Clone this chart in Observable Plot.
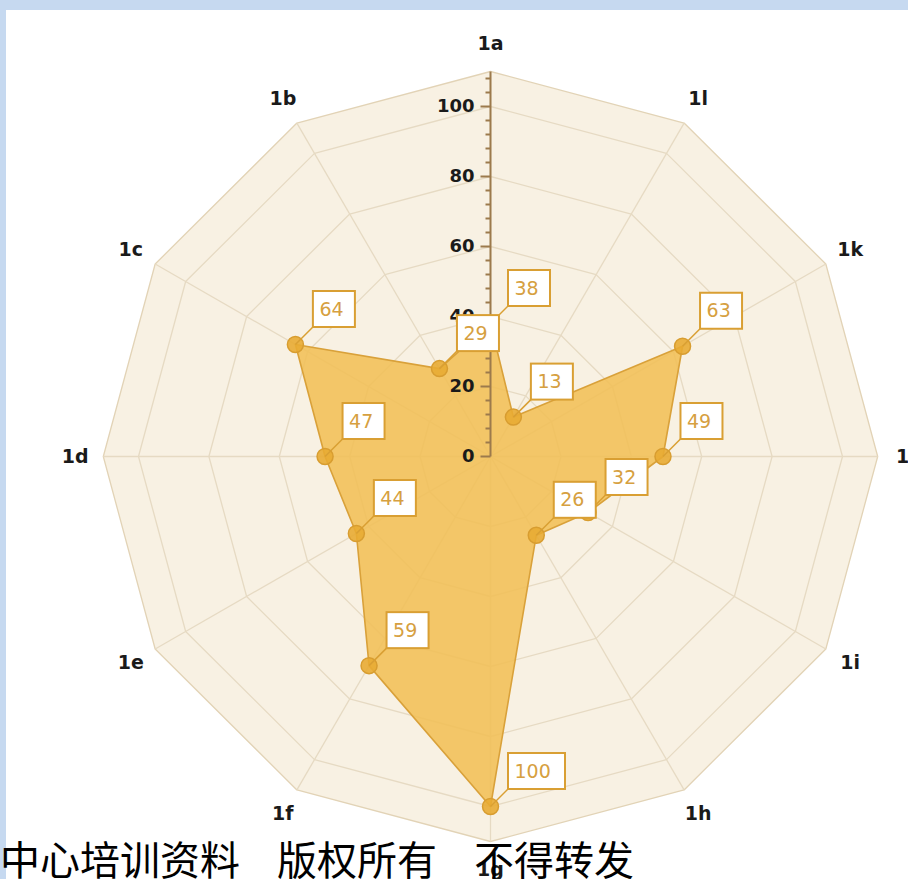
<!DOCTYPE html>
<html><head><meta charset="utf-8">
<script src="https://cdn.jsdelivr.net/npm/d3@7"></script>
<script src="https://cdn.jsdelivr.net/npm/@observablehq/plot@0.6"></script>
<style>
html,body{margin:0;padding:0;background:#c6d9f0;width:908px;height:879px;overflow:hidden;position:relative}
#panel{position:absolute;left:6px;top:10px;width:902px;height:869px;background:#fff}
#chart{position:absolute;left:0;top:0}
#note{position:absolute;left:0;top:838px;font-family:"Noto Sans CJK SC";font-size:40px;line-height:1;color:#000;word-spacing:28px;white-space:nowrap}
</style></head><body>
<div id="panel"></div><div id="chart"></div><div id="note">中心培训资料 版权所有 不得转发</div>
<script>
// ---- data ----
const categories = ["1a","1l","1k","1j","1i","1h","1g","1f","1e","1d","1c","1b"];
// positions as drawn in the picture (the 1f point sits near 69 although its label reads 59)
const values = [38,13,63,49,32,26,100,69,44,47,64,29];
const valueLabels = ["38","13","63","49","32","26","100","59","44","47","64","29"];
const ringLevels = [20,40,60,80,100];
const outerLevel = 110;
const labelLevel = 118;
const tickLabels = [0,20,40,60,80,100];
const minorTicks = [4,8,12,16,24,28,32,36,44,48,52,56,64,68,72,76,84,88,92,96,104,108];

// ---- polar helpers ----
const n = categories.length;
const ang = i => i * 2 * Math.PI / n;
const px = (i, r) => r * Math.sin(ang(i));
const py = (i, r) => r * Math.cos(ang(i));

const outer = categories.map((c, i) => ({x: px(i, outerLevel), y: py(i, outerLevel)}));
const rings = ringLevels.flatMap(l => categories.map((c, i) => ({level: l, x: px(i, l), y: py(i, l)})));
const spokes = categories.map((c, i) => ({x2: px(i, outerLevel), y2: py(i, outerLevel)}));
const pts = categories.map((c, i) => ({cat: c, v: values[i], label: valueLabels[i], x: px(i, values[i]), y: py(i, values[i])}));
const catLabels = categories.map((c, i) => ({cat: c, x: px(i, labelLevel), y: py(i, labelLevel)}));

const hTick = len => ({draw(ctx){ ctx.moveTo(-len, 0); ctx.lineTo(0, 0); }});
const leader = {draw(ctx){ ctx.moveTo(0, 0); ctx.lineTo(18, -18); }};

const axisColor = "#9c7a4c";
const orange = "#d99f33";
const font = "DejaVu Sans";

const boxOpts = (w) => ({
  x1: "x", x2: "x", y1: "y", y2: "y",
  insetLeft: 18, insetRight: -(18 + w), insetTop: -53, insetBottom: 17,
  fill: "#fff", stroke: orange, strokeWidth: 2
});

const chart = Plot.plot({
  width: 908, height: 879, margin: 0,
  x: {domain: [-100, 100], range: [490 - 352, 490 + 352], axis: null},
  y: {domain: [-100, 100], range: [456 + 350, 456 - 350], axis: null},
  style: {background: "transparent", overflow: "visible"},
  marks: [
    Plot.line(outer, {x: "x", y: "y", curve: "linear-closed", fill: "#f8f1e3", stroke: "#e2d3b6", strokeWidth: 1.3}),
    Plot.line(rings, {x: "x", y: "y", z: "level", curve: "linear-closed", stroke: "#e6dac3", strokeWidth: 1.3}),
    Plot.link(spokes, {x1: () => 0, y1: () => 0, x2: "x2", y2: "y2", stroke: "#e6dac3", strokeWidth: 1.3}),
    Plot.line(pts, {x: "x", y: "y", curve: "linear-closed", fill: "#f1bf57", fillOpacity: 0.88, stroke: "#d9a13a", strokeWidth: 1.6}),
    Plot.link([outerLevel], {x1: () => 0, y1: () => 0, x2: () => 0, y2: d => d, stroke: axisColor, strokeWidth: 2}),
    Plot.dot(tickLabels, {x: () => 0, y: d => d, symbol: hTick(10), fill: "none", stroke: axisColor, strokeWidth: 2}),
    Plot.dot(minorTicks, {x: () => 0, y: d => d, symbol: hTick(5), fill: "none", stroke: axisColor, strokeWidth: 2}),
    Plot.text(tickLabels, {x: () => 0, y: d => d, text: d => String(d), textAnchor: "end", dx: -16, fontSize: 18, fontWeight: "bold", fontFamily: font, fill: "#1a1a1a"}),
    Plot.dot(pts, {x: "x", y: "y", r: 8, fill: "#e8ab33", fillOpacity: 0.9, stroke: "#d89d30", strokeWidth: 1.5}),
    Plot.dot(pts, {x: "x", y: "y", symbol: leader, fill: "none", stroke: orange, strokeWidth: 1.5}),
    Plot.rect(pts.filter(d => d.label.length === 2), boxOpts(42)),
    Plot.rect(pts.filter(d => d.label.length === 3), boxOpts(57)),
    Plot.text(pts, {x: "x", y: "y", text: "label", textAnchor: "start", dx: 24, dy: -35, fontSize: 19, fontFamily: font, fill: "#d6a040"}),
    Plot.text(catLabels, {x: "x", y: "y", text: "cat", fontSize: 19, fontWeight: "bold", fontFamily: font, fill: "#1a1a1a"})
  ]
});
document.getElementById("chart").appendChild(chart);
</script>
</body></html>
